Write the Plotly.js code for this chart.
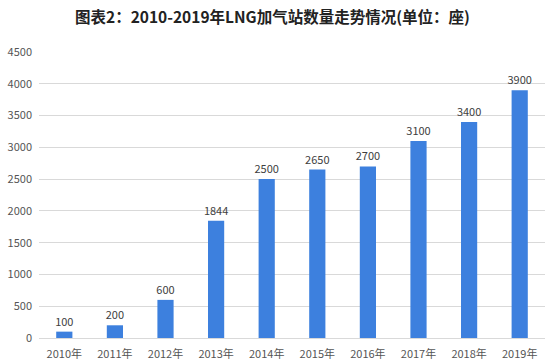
<!DOCTYPE html>
<html><head><meta charset="utf-8">
<script src="https://cdn.plot.ly/plotly-3.0.1.min.js"></script>
<style>body{margin:0;background:#fff}#c{width:545px;height:364px}</style>
</head><body><div id="c"></div>
<script>
const years = ["2010年","2011年","2012年","2013年","2014年","2015年","2016年","2017年","2018年","2019年"];
const stations = [100,200,600,1844,2500,2650,2700,3100,3400,3900];
const yTicks = [0,500,1000,1500,2000,2500,3000,3500,4000,4500];

const font = "'Noto Sans CJK SC', 'Noto Sans', sans-serif";
Plotly.newPlot('c', [{
  type:'bar', x: years, y: stations,
  marker:{color:'#3d80de'},
  text: stations.map(String), textposition:'outside', constraintext:'none',
  textfont:{family:font, size:11, color:'#404040'},
  cliponaxis:false, hoverinfo:'skip'
}], {
  width:545, height:364,
  margin:{l:39, r:0, t:52, b:26},
  paper_bgcolor:'#fff', plot_bgcolor:'#fff',
  bargap:0.68,
  title:{text:'<b>图表2：2010-2019年LNG加气站数量走势情况(单位：座)</b>', x:0.5, xanchor:'center', y:0.953, yanchor:'middle',
    font:{family:font, size:15.5, color:'#222'}},
  xaxis:{tickfont:{family:font, size:11, color:'#555'}, showgrid:false, showline:true, linecolor:'#d9d9d9', ticks:'', ticklabelstandoff:6},
  yaxis:{range:[0,4500], tickvals:yTicks, ticktext:yTicks.map(String), showgrid:true, gridcolor:'#d9d9d9', zeroline:false,
    tickfont:{family:font, size:11, color:'#555'}, ticks:'', ticklabelstandoff:6},
  showlegend:false
}, {staticPlot:true, displayModeBar:false});
</script></body></html>
